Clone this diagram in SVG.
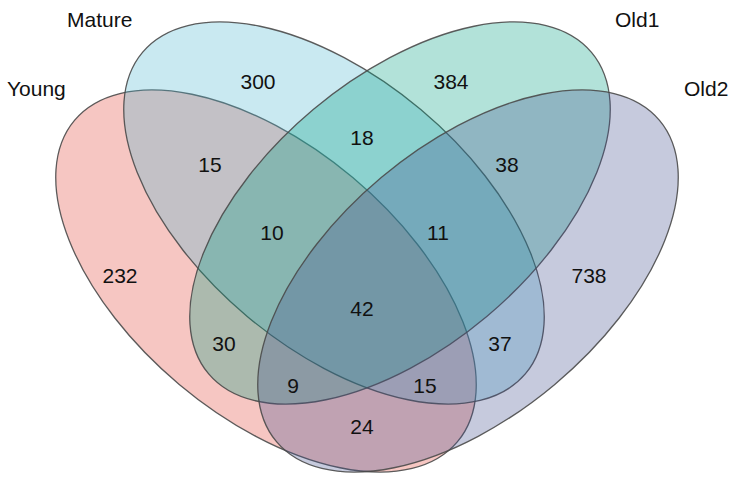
<svg xmlns="http://www.w3.org/2000/svg" width="735" height="483" viewBox="0 0 735 483">
<style>
.set{fill-opacity:0.3;stroke:#4a4a4a;stroke-width:1.3;stroke-opacity:0.9}
.lbl{font-family:"Liberation Sans",Arial,sans-serif;font-size:21px;fill:#111}
.num{font-family:"Liberation Sans",Arial,sans-serif;font-size:21px;fill:#111;text-anchor:middle}
</style>
<rect width="735" height="483" fill="#ffffff"/>
<g id="young"><ellipse class="set" cx="266" cy="281" rx="250" ry="135" transform="rotate(40 266 281)" fill="#E14134"/></g>
<g id="mature"><ellipse class="set" cx="334" cy="213" rx="250" ry="135" transform="rotate(40 334 213)" fill="#4BB6D0"/></g>
<g id="old1"><ellipse class="set" cx="400" cy="213" rx="250" ry="135" transform="rotate(-40 400 213)" fill="#009E80"/></g>
<g id="old2"><ellipse class="set" cx="468" cy="281" rx="250" ry="135" transform="rotate(-40 468 281)" fill="#414E8D"/></g>
<g id="connectors"></g>
<g id="labels">
<text class="lbl" x="67" y="27">Mature</text>
<text class="lbl" x="7" y="96">Young</text>
<text class="lbl" x="615" y="27">Old1</text>
<text class="lbl" x="684" y="96">Old2</text>
</g>
<g id="counts">
<text class="num" x="258" y="89">300</text>
<text class="num" x="451" y="89">384</text>
<text class="num" x="120" y="283">232</text>
<text class="num" x="589" y="283">738</text>
<text class="num" x="210" y="172">15</text>
<text class="num" x="362" y="145">18</text>
<text class="num" x="507" y="172">38</text>
<text class="num" x="272" y="240">10</text>
<text class="num" x="438" y="240">11</text>
<text class="num" x="362" y="316">42</text>
<text class="num" x="224" y="351">30</text>
<text class="num" x="500" y="351">37</text>
<text class="num" x="293" y="393">9</text>
<text class="num" x="425" y="393">15</text>
<text class="num" x="362" y="434">24</text>
</g>
</svg>
